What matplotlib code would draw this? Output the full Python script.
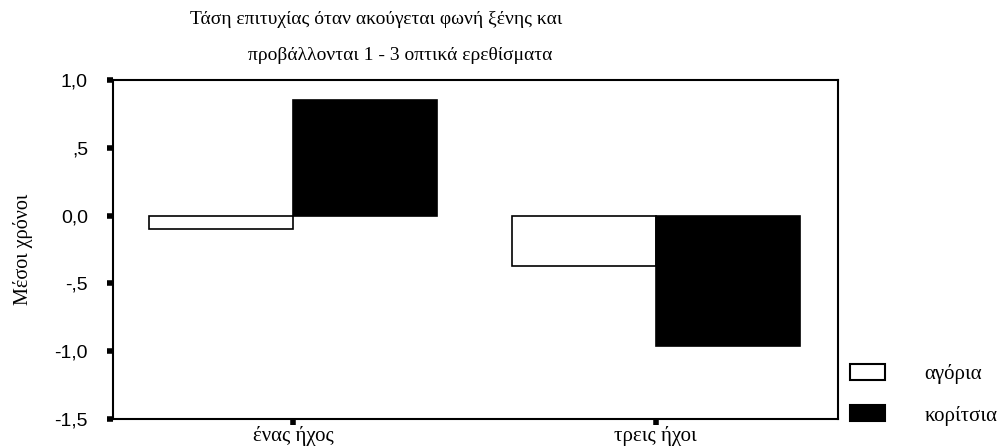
import matplotlib.pyplot as plt
from matplotlib.patches import Patch
import numpy as np

categories = ['ένας ήχος', 'τρεις ήχοι']
agoria = [-0.10, -0.37]
koritsia = [0.85, -0.96]
series_names = ['αγόρια', 'κορίτσια']
yticks = [1.0, 0.5, 0.0, -0.5, -1.0, -1.5]
ytick_labels = ['1,0', ',5', '0,0', '-,5', '-1,0', '-1,5']

serif = 'Liberation Serif'
sans = 'Liberation Sans'

fig = plt.figure(figsize=(10.01, 4.46), dpi=100)
ax = fig.add_axes([113/1001, 1 - 419/446, 725/1001, 339/446])

x = np.arange(len(categories))
w = 0.397
ax.bar(x - w/2, agoria, w, color='white', edgecolor='black', linewidth=1.2)
ax.bar(x + w/2, koritsia, w, color='black', edgecolor='black', linewidth=1.2)

ax.set_xlim(-0.496, 1.503)
ax.set_ylim(-1.5, 1.0)
ax.set_yticks(yticks)
ax.set_yticklabels(ytick_labels, fontfamily=sans, fontsize=14)
ax.set_xticks(x)
ax.set_xticklabels(categories, fontfamily=serif, fontsize=15)
ax.tick_params(axis='y', direction='out', length=4, width=4, pad=14)
ax.tick_params(axis='x', direction='out', length=4, width=4, pad=1)
for s in ax.spines.values():
    s.set_linewidth(1.5)

ax.set_ylabel('Μέσοι χρόνοι', fontfamily=serif, fontsize=14.5)
ax.yaxis.set_label_coords(-0.110, 0.5)

fig.text(376/1001, 1 - 20/446, 'Τάση επιτυχίας όταν ακούγεται φωνή ξένης και',
         ha='center', va='center', fontfamily=serif, fontsize=14)
fig.text(400/1001, 1 - 55/446, 'προβάλλονται 1 - 3 οπτικά ερεθίσματα',
         ha='center', va='center', fontfamily=serif, fontsize=14)

handles = [Patch(facecolor='white', edgecolor='black', linewidth=1.5),
           Patch(facecolor='black', edgecolor='black', linewidth=1.5)]
fig.legend(handles, series_names, loc='upper left', bbox_to_anchor=(850/1001, 1 - 364/446),
           frameon=False, prop={'family': serif, 'size': 15}, borderpad=0, borderaxespad=0,
           handlelength=1.68, handleheight=0.82, handletextpad=1.9, labelspacing=1.0)

fig.savefig('out.png', dpi=100)
